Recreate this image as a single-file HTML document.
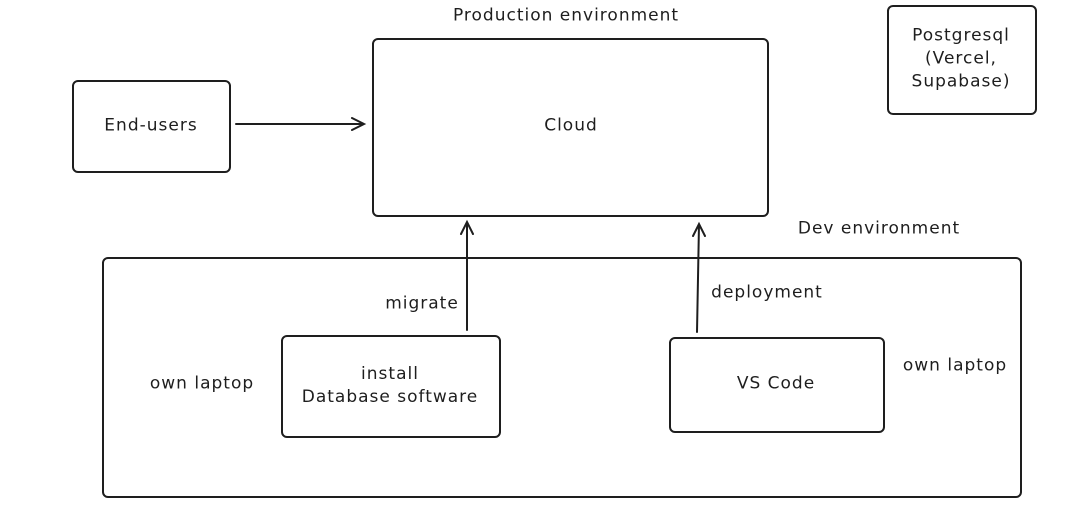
<!DOCTYPE html>
<html><head><meta charset="utf-8"><style>
body{margin:0;width:1072px;height:510px;background:#fff;overflow:hidden;position:relative;font-family:"DejaVu Sans",sans-serif;color:#1e1e1e}
.b{position:absolute;border:2px solid #1e1e1e;border-radius:6px;box-sizing:border-box}
.t{position:absolute;font-size:17px;line-height:23px;letter-spacing:1px;text-align:center;transform:translate(-50%,-50%);white-space:nowrap}
</style></head><body>
<div class="b" style="left:72px;top:80px;width:159px;height:93px"></div>
<div class="b" style="left:372px;top:38px;width:397px;height:179px"></div>
<div class="b" style="left:887px;top:5px;width:150px;height:110px"></div>
<div class="b" style="left:102px;top:257px;width:920px;height:241px"></div>
<div class="b" style="left:281px;top:335px;width:220px;height:103px"></div>
<div class="b" style="left:669px;top:337px;width:216px;height:96px"></div>
<svg width="1072" height="510" style="position:absolute;left:0;top:0" fill="none" stroke="#1e1e1e" stroke-width="2" stroke-linecap="round">
<path d="M236 124 L364 124 M352 118 L364 124 L352 130"/>
<path d="M467 330 L467 222 M461 234 L467 222 L473 234"/>
<path d="M697 332 L699 224 M693 236 L699 224 L705 236"/>
</svg>
<div class="t" style="left:566px;top:16px">Production environment</div>
<div class="t" style="left:879px;top:229px">Dev environment</div>
<div class="t" style="left:571px;top:126px">Cloud</div>
<div class="t" style="left:151px;top:126px">End-users</div>
<div class="t" style="left:961px;top:59px">Postgresql<br>(Vercel,<br>Supabase)</div>
<div class="t" style="left:422px;top:304px">migrate</div>
<div class="t" style="left:767px;top:293px">deployment</div>
<div class="t" style="left:202px;top:384px">own laptop</div>
<div class="t" style="left:955px;top:366px">own laptop</div>
<div class="t" style="left:390px;top:386px">install<br>Database software</div>
<div class="t" style="left:776px;top:384px">VS Code</div>
</body></html>
